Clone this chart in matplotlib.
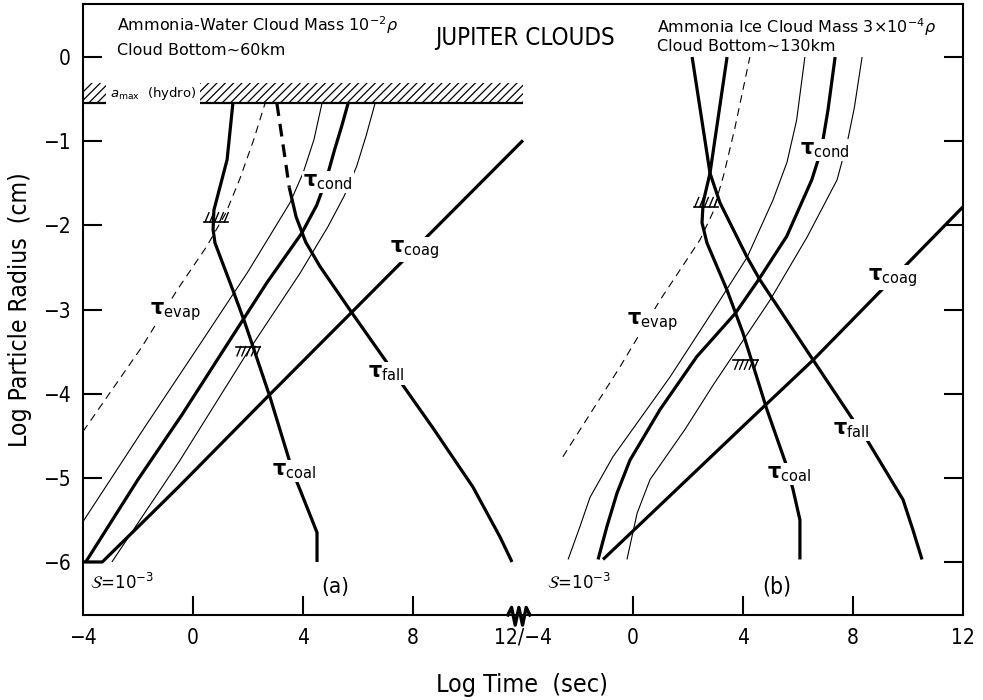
import numpy as np
import matplotlib.pyplot as plt
from matplotlib import font_manager as fm
from matplotlib.patches import Rectangle

plt.rcParams['mathtext.fontset'] = 'dejavusans'
plt.rcParams['hatch.linewidth'] = 0.9

# pick a narrow face for the axis lettering if one is installed
_have = {(f.name, f.stretch) for f in fm.fontManager.ttflist}
_names = {n for n, _ in _have}
if ('DejaVu Sans', 'condensed') in _have:
    NARROW = dict(family='DejaVu Sans', stretch='condensed')
elif 'DejaVu Sans Condensed' in _names:
    NARROW = dict(family='DejaVu Sans Condensed')
elif 'Liberation Sans Narrow' in _names:
    NARROW = dict(family='Liberation Sans Narrow')
else:
    NARROW = dict(family='Liberation Sans')

# panel (b) sits on the same axis, shifted right by 16 decades of time
SHIFT = 16

# ---------------- (a) ammonia-water cloud ----------------
cond_a_t = [-3.9, -2.0, -0.4, 1.35, 2.69, 3.96, 4.5, 4.85, 5.15, 5.4, 5.64]
cond_a_r = [-6.0, -5.02, -4.25, -3.36, -2.68, -2.09, -1.76, -1.45, -1.1, -0.83, -0.55]
condlo_a_t = [-4.0, -1.82, 0.36, 2.0, 3.53, 4.0, 4.4, 4.69]
condlo_a_r = [-5.52, -4.43, -3.36, -2.55, -1.73, -1.38, -0.98, -0.55]
condhi_a_t = [-2.95, -0.47, 1.96, 3.89, 4.9, 5.5, 5.95, 6.3, 6.62]
condhi_a_r = [-6.0, -4.79, -3.52, -2.57, -2.02, -1.65, -1.3, -0.93, -0.55]
evap_a_t = [-4.0, -1.85, -0.58, 0.5, 1.2, 1.7, 2.2, 2.62]
evap_a_r = [-4.45, -3.44, -2.77, -2.25, -1.85, -1.45, -0.99, -0.55]
fall_a_t = [3.05, 3.3, 3.5, 3.75, 4.1, 4.62, 5.78, 8.73, 10.18, 11.16, 11.6]
fall_a_r = [-0.55, -1.1, -1.55, -1.9, -2.2, -2.49, -3.04, -4.41, -5.11, -5.70, -6.0]
fall_a_dashed = 3          # first points of tau_fall are dashed
coal_a_t = [1.45, 1.24, 0.76, 0.73, 0.80, 1.45, 1.89, 2.18, 2.80, 3.64, 3.89, 4.51, 4.51]
coal_a_r = [-0.55, -1.22, -1.82, -2.05, -2.21, -2.77, -3.16, -3.44, -4.04, -4.94, -5.14, -5.65, -6.0]
coag_a_t = [-4.0, -3.3, -2.3, -0.5, 2.7, 12.0]
coag_a_r = [-6.0, -6.0, -5.68, -5.1, -4.04, -0.99]
amax_r = -0.55             # a_max (hydro) level
amax_band = 0.24

# ---------------- (b) ammonia ice cloud ----------------
cond_b_t = [-1.27, -0.95, -0.58, -0.11, 0.98, 2.32, 3.71, 4.56, 5.59, 6.5, 6.85, 7.09, 7.35]
cond_b_r = [-5.97, -5.58, -5.18, -4.79, -4.19, -3.56, -3.05, -2.65, -2.13, -1.46, -1.1, -0.63, 0.0]
condlo_b_t = [-2.36, -1.93, -1.56, -0.73, 1.35, 3.16, 4.15, 5.09, 5.6, 5.95, 6.25]
condlo_b_r = [-5.97, -5.58, -5.23, -4.75, -3.8, -2.89, -2.38, -1.7, -1.25, -0.75, 0.0]
condhi_b_t = [-0.22, 0.15, 0.62, 1.9, 2.91, 4.98, 6.33, 7.42, 7.8, 8.05, 8.33]
condhi_b_r = [-5.97, -5.42, -5.02, -4.42, -3.9, -2.89, -2.14, -1.46, -1.0, -0.6, 0.0]
evap_b_t = [-2.55, -0.47, 0.98, 2.44, 2.9, 3.3, 3.7, 4.25]
evap_b_r = [-4.75, -3.68, -2.89, -2.17, -1.85, -1.4, -0.85, 0.0]
coal_b_t = [3.42, 2.80, 2.55, 2.51, 2.69, 3.42, 4.0, 4.87, 5.6, 5.82, 6.07, 6.07]
coal_b_r = [0.0, -1.38, -1.73, -1.97, -2.21, -2.77, -3.28, -4.19, -4.87, -5.14, -5.50, -5.97]
fall_b_t = [2.15, 2.8, 3.16, 4.15, 4.62, 6.55, 8.0, 8.51, 9.82, 10.18, 10.51]
fall_b_r = [0.0, -1.38, -1.73, -2.38, -2.65, -3.6, -4.31, -4.55, -5.26, -5.62, -5.97]
coag_b_t = [-1.09, 4.25, 6.55, 12.0]
coag_b_r = [-5.97, -4.31, -3.6, -1.78]

# hatched markers on tau_coal: (panel, log t, log r, hatch side)
marks = [('a', 0.84, -1.96, 1), ('a', 2.0, -3.44, -1),
         ('b', 2.65, -1.78, 1), ('b', 4.1, -3.6, -1)]

# curve labels: (panel, log t, log r, subscript)
tau_labels = [('a', 4.0, -1.48, 'cond'), ('a', 7.16, -2.29, 'coag'), ('a', -1.56, -3.02, 'evap'),
              ('a', 6.36, -3.76, 'fall'), ('a', 2.87, -4.92, 'coal'),
              ('b', 6.07, -1.1, 'cond'), ('b', 8.55, -2.62, 'coag'), ('b', -0.22, -3.14, 'evap'),
              ('b', 7.27, -4.43, 'fall'), ('b', 4.87, -4.96, 'coal')]

tick_pos = [-4, 0, 4, 8, 12, 16, 20, 24, 28]
tick_lab = ['\u22124', '0', '4', '8', '12/\u22124', '0', '4', '8', '12']
ytick_pos = [0, -1, -2, -3, -4, -5, -6]


def off(panel):
    return 0 if panel == 'a' else SHIFT


fig = plt.figure(figsize=(9.83, 7.0), dpi=100)
ax = fig.add_axes([83/983, 1-615/700, 880/983, 611/700])
ax.set_xlim(-4, 28)
ax.set_ylim(-6.63, 0.63)

THICK, THIN = 2.3, 0.8
k = dict(color='black', solid_capstyle='butt', zorder=2)

ax.plot(cond_a_t, cond_a_r, lw=THICK, **k)
ax.plot(condlo_a_t, condlo_a_r, lw=THIN, **k)
ax.plot(condhi_a_t, condhi_a_r, lw=THIN, **k)
ax.plot(evap_a_t, evap_a_r, lw=THIN, ls=(0, (7, 5)), **k)
ax.plot(fall_a_t[:fall_a_dashed], fall_a_r[:fall_a_dashed], lw=THICK, ls=(0, (4, 2.5)), **k)
ax.plot(fall_a_t[fall_a_dashed-1:], fall_a_r[fall_a_dashed-1:], lw=THICK, **k)
ax.plot(coal_a_t, coal_a_r, lw=THICK, **k)
ax.plot(coag_a_t, coag_a_r, lw=THICK, **k)

s = SHIFT
ax.plot(np.add(cond_b_t, s), cond_b_r, lw=THICK, **k)
ax.plot(np.add(condlo_b_t, s), condlo_b_r, lw=THIN, **k)
ax.plot(np.add(condhi_b_t, s), condhi_b_r, lw=THIN, **k)
ax.plot(np.add(evap_b_t, s), evap_b_r, lw=THIN, ls=(0, (7, 5)), **k)
ax.plot(np.add(coal_b_t, s), coal_b_r, lw=THICK, **k)
ax.plot(np.add(fall_b_t, s), fall_b_r, lw=THICK, **k)
ax.plot(np.add(coag_b_t, s), coag_b_r, lw=THICK, **k)

# a_max (hydro) hatched band
ax.add_patch(Rectangle((-4, amax_r), 12 - (-4), amax_band, hatch='////',
                       fill=False, lw=0, edgecolor='black', zorder=1))
ax.hlines(amax_r, -4, 12, color='black', lw=1.6, zorder=2)
ax.text(-3.02, amax_r + amax_band/2, r'$a_{\rm max}$  (hydro)', family='DejaVu Sans',
        fontsize=9.5, ha='left', va='center', zorder=4,
        bbox=dict(fc='white', ec='none', boxstyle='square,pad=0.3'))

# small hatched markers
for p, t0, r0, side in marks:
    x0 = t0 + off(p)
    ax.plot([x0 - 0.45, x0 + 0.45], [r0, r0], color='black', lw=1.2, zorder=3)
    for xs in np.linspace(x0 - 0.4, x0 + 0.3, 5):
        ax.plot([xs, xs + 0.14], [r0, r0 + 0.11*side] if side > 0 else [r0 + 0.11*side, r0],
                color='black', lw=1.0, zorder=3)

for p, t0, r0, sub in tau_labels:
    ax.text(t0 + off(p), r0, r'$\mathbf{\tau}_{\mathrm{%s}}$' % sub, fontsize=15, ha='left',
            va='center', zorder=5, bbox=dict(fc='white', ec='none', boxstyle='square,pad=0.05'))

# header notes
note = dict(family='DejaVu Sans', fontsize=11.5, ha='left', va='center')
ax.text(-2.76, 0.38, r'Ammonia-Water Cloud Mass 10$^{-2}$$\rho$', **note)
ax.text(-2.76, 0.08, 'Cloud Bottom~60km', **note)
ax.text(16.87, 0.36, r'Ammonia Ice Cloud Mass 3$\times$10$^{-4}$$\rho$', **note)
ax.text(16.87, 0.12, 'Cloud Bottom~130km', **note)
title = ax.text(12.07, 0.23, 'JUPITER CLOUDS', fontsize=20, ha='center', va='center', **NARROW)

ax.text(-3.75, -6.25, r'$\mathcal{S}$=10$^{-3}$', family='DejaVu Sans', fontsize=12, ha='left', va='center')
ax.text(12.87, -6.25, r'$\mathcal{S}$=10$^{-3}$', family='DejaVu Sans', fontsize=12, ha='left', va='center')
lab_a = ax.text(5.16, -6.3, '(a)', fontsize=16, ha='center', va='center', **NARROW)
lab_b = ax.text(21.24, -6.3, '(b)', fontsize=16, ha='center', va='center', **NARROW)

# axis break on the time axis between the panels
zx = 11.85 + np.linspace(-0.4, 0.4, 7)
zy = -6.63 + np.array([0, 0.09, -0.12, 0.09, -0.12, 0.09, 0])
ax.plot(zx, zy, color='black', lw=2.4, clip_on=False, zorder=6)

ax.set_xticks(tick_pos, tick_lab)
ax.set_yticks(ytick_pos, ['0'] + ['\u2212%d' % -v for v in ytick_pos[1:]])
ax.tick_params(direction='in', length=14, width=1.5, labelsize=15)
ax.tick_params(axis='y', right=True, pad=9)
ax.tick_params(axis='x', pad=9)
for i in (0, 4, 8):
    ax.xaxis.get_major_ticks()[i].tick1line.set_visible(False)
for sp in ax.spines.values():
    sp.set_linewidth(1.5)
for lbl in ax.get_xticklabels() + ax.get_yticklabels():
    lbl.set(**NARROW)

xl = ax.set_xlabel('Log Time  (sec)', fontsize=21, va='center', **NARROW)
ax.xaxis.set_label_coords(0.499, -0.1146)
yl = ax.set_ylabel('Log Particle Radius  (cm)', fontsize=20, va='center', **NARROW)
ax.yaxis.set_label_coords(-0.0716, 0.5)

# scale the narrow lettering towards the lengths seen on the original
rend = fig.canvas.get_renderer()


def fit(txt, target):
    bb = txt.get_window_extent(rend)
    txt.set_fontsize(txt.get_fontsize() * target / max(bb.width, bb.height))


fit(title, 180)
fit(xl, 172)
fit(yl, 275)
fit(lab_a, 28)
fit(lab_b, 29)

plt.savefig('out.png', dpi=100)
